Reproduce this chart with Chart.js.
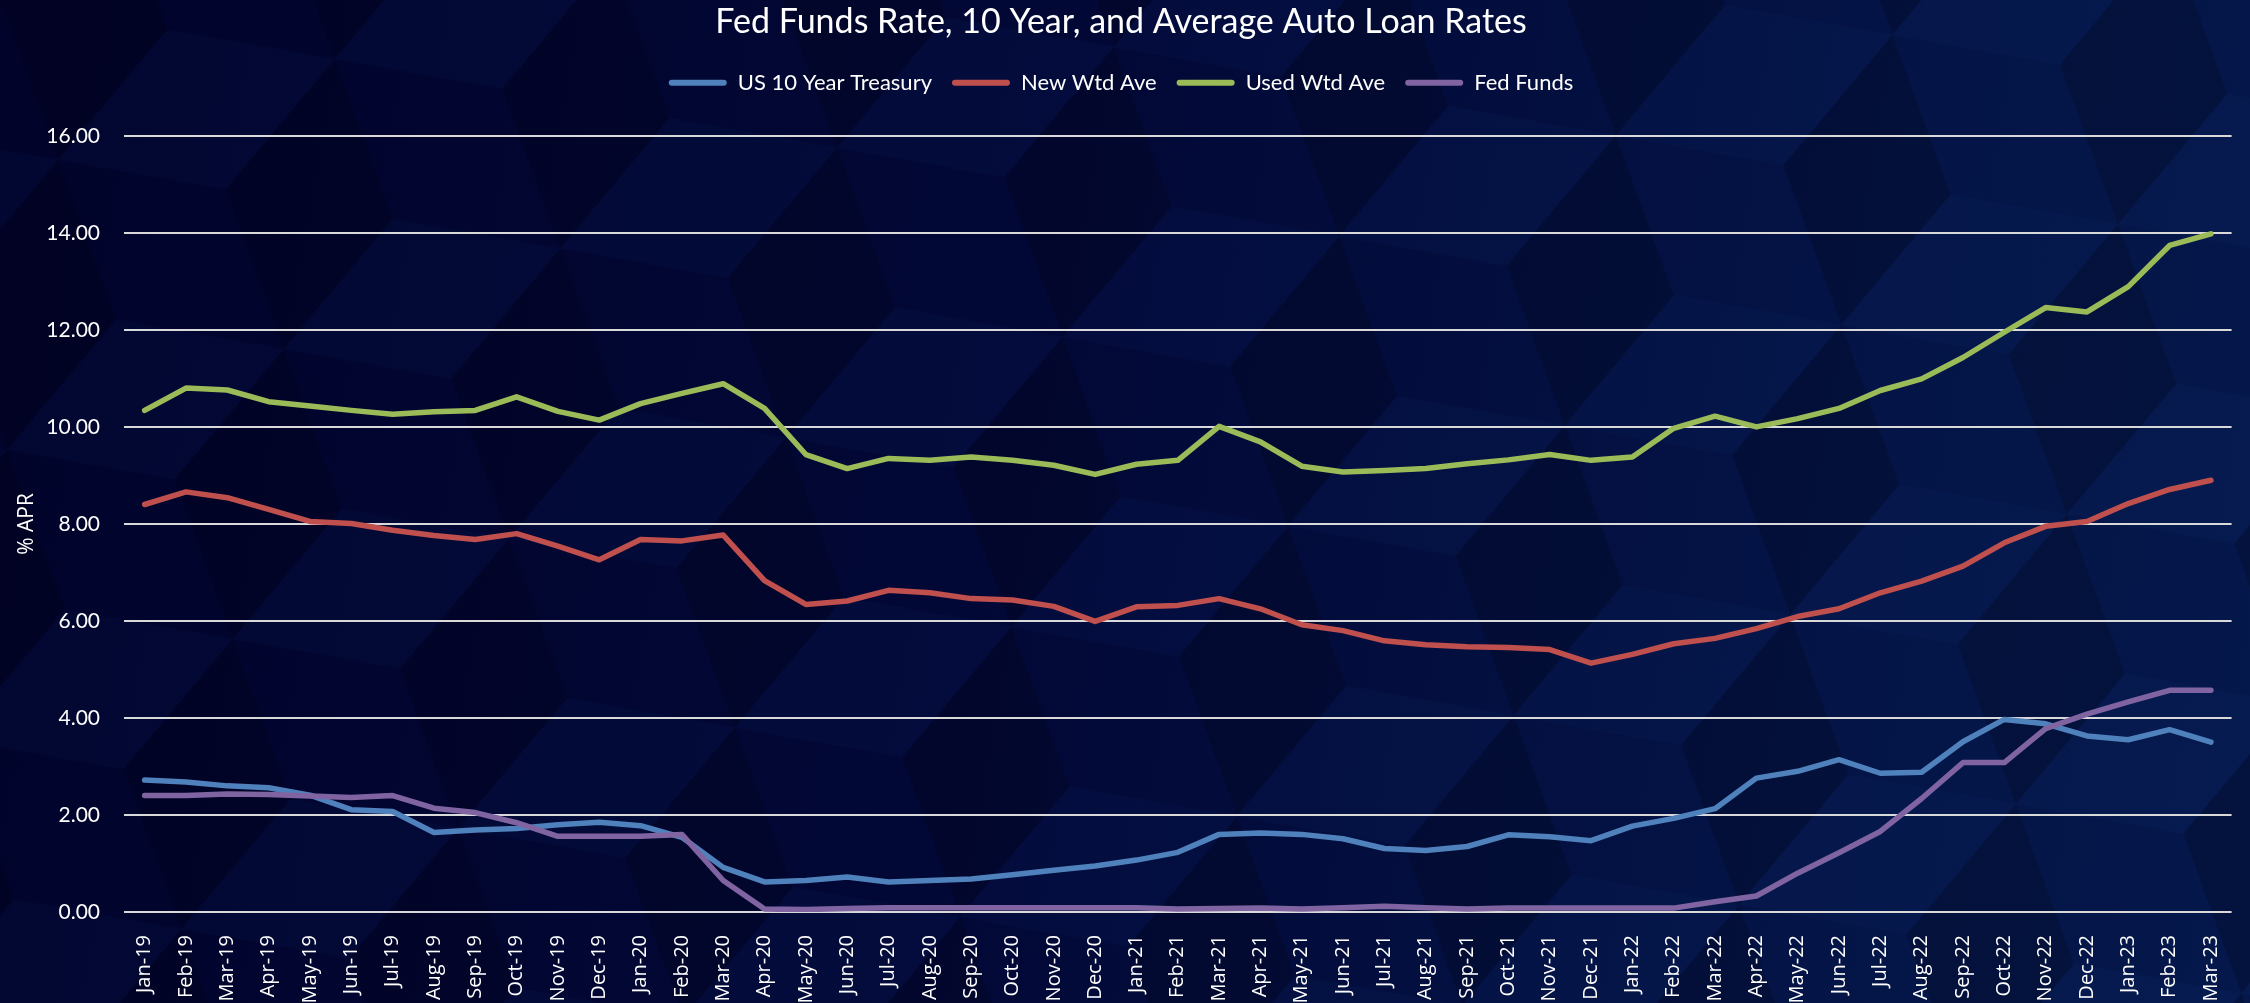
<!DOCTYPE html>
<html>
<head>
<meta charset="utf-8">
<title>Fed Funds Rate, 10 Year, and Average Auto Loan Rates</title>
<script src="https://cdn.jsdelivr.net/npm/chart.js@4.4.0/dist/chart.umd.min.js"></script>
<style>
  html, body { margin: 0; padding: 0; }
  body {
    width: 2250px;
    height: 1003px;
    overflow: hidden;
    background: linear-gradient(100deg, #01032a 0%, #020836 45%, #041446 80%, #05184b 100%);
  }
  canvas { display: block; }
</style>
</head>
<body>
<canvas id="rates-chart" width="2250" height="1003"></canvas>
<script>
// month labels on the category axis
const months = [
  'Jan-19', 'Feb-19', 'Mar-19', 'Apr-19', 'May-19', 'Jun-19', 'Jul-19', 'Aug-19', 'Sep-19', 'Oct-19', 'Nov-19', 'Dec-19',
  'Jan-20', 'Feb-20', 'Mar-20', 'Apr-20', 'May-20', 'Jun-20', 'Jul-20', 'Aug-20', 'Sep-20', 'Oct-20', 'Nov-20', 'Dec-20',
  'Jan-21', 'Feb-21', 'Mar-21', 'Apr-21', 'May-21', 'Jun-21', 'Jul-21', 'Aug-21', 'Sep-21', 'Oct-21', 'Nov-21', 'Dec-21',
  'Jan-22', 'Feb-22', 'Mar-22', 'Apr-22', 'May-22', 'Jun-22', 'Jul-22', 'Aug-22', 'Sep-22', 'Oct-22', 'Nov-22', 'Dec-22',
  'Jan-23', 'Feb-23', 'Mar-23'
];

// % APR
const treasury = [
  2.72, 2.68, 2.60, 2.56, 2.41, 2.11, 2.07, 1.64, 1.69, 1.72, 1.80, 1.85,
  1.78, 1.54, 0.92, 0.62, 0.65, 0.72, 0.62, 0.65, 0.68, 0.77, 0.86, 0.95,
  1.07, 1.23, 1.60, 1.63, 1.60, 1.51, 1.31, 1.27, 1.35, 1.59, 1.55, 1.47,
  1.77, 1.93, 2.13, 2.76, 2.90, 3.14, 2.86, 2.88, 3.51, 3.97, 3.88, 3.63,
  3.55, 3.76, 3.50
];
const newWtdAve = [
  8.40, 8.66, 8.54, 8.30, 8.05, 8.01, 7.87, 7.76, 7.68, 7.80, 7.54, 7.26,
  7.68, 7.65, 7.77, 6.83, 6.34, 6.41, 6.63, 6.58, 6.46, 6.43, 6.30, 5.99,
  6.29, 6.32, 6.46, 6.25, 5.92, 5.80, 5.59, 5.51, 5.47, 5.45, 5.41, 5.13,
  5.31, 5.53, 5.64, 5.84, 6.09, 6.25, 6.58, 6.82, 7.13, 7.61, 7.95, 8.05,
  8.42, 8.71, 8.90
];
const usedWtdAve = [
  10.34, 10.80, 10.76, 10.52, 10.43, 10.34, 10.26, 10.31, 10.34, 10.62, 10.32, 10.14,
  10.48, 10.69, 10.89, 10.38, 9.43, 9.14, 9.35, 9.31, 9.38, 9.31, 9.21, 9.02,
  9.23, 9.31, 10.01, 9.69, 9.19, 9.07, 9.10, 9.14, 9.24, 9.32, 9.43, 9.31,
  9.38, 9.97, 10.22, 10.00, 10.17, 10.38, 10.75, 10.99, 11.43, 11.95, 12.46, 12.37,
  12.89, 13.74, 13.98
];
const fedFunds = [
  2.40, 2.40, 2.43, 2.42, 2.39, 2.36, 2.40, 2.14, 2.05, 1.84, 1.56, 1.56,
  1.56, 1.60, 0.65, 0.06, 0.05, 0.07, 0.09, 0.09, 0.09, 0.09, 0.09, 0.09,
  0.09, 0.06, 0.07, 0.08, 0.06, 0.09, 0.12, 0.09, 0.06, 0.08, 0.08, 0.08,
  0.08, 0.08, 0.21, 0.33, 0.80, 1.22, 1.66, 2.34, 3.08, 3.08, 3.78, 4.08,
  4.33, 4.57, 4.57
];

const WHITE = '#ffffff';
const GRID = '#d9d9d9';

// faint slanted cube texture behind the chart, like the slide background
function cubeBackground() {
  const r = 170;
  const dx = r * Math.sqrt(3) / 2;
  const w = 2 * dx;
  const h = 3 * r;
  const centers = [[0, 0], [w, 0], [dx, 1.5 * r], [0, h], [w, h]];
  const poly = (pts, fill) => `<polygon points='${pts.map((p) => p[0].toFixed(1) + ',' + p[1].toFixed(1)).join(' ')}' fill='${fill}'/>`;
  let faces = '';
  centers.forEach(([cx, cy]) => {
    const top = [cx, cy - r], ur = [cx + dx, cy - r / 2], lr = [cx + dx, cy + r / 2];
    const bottom = [cx, cy + r], ul = [cx - dx, cy - r / 2], c = [cx, cy];
    faces += poly([top, ur, c, ul], 'rgba(25,60,150,0.06)');
    faces += poly([c, ur, lr, bottom], 'rgba(0,0,10,0.2)');
  });
  const svg = `<svg xmlns='http://www.w3.org/2000/svg' width='2250' height='1003'>` +
    `<defs><pattern id='p' width='${w.toFixed(1)}' height='${h}' patternUnits='userSpaceOnUse' patternTransform='rotate(-20)'>${faces}</pattern></defs>` +
    `<rect width='100%' height='100%' fill='url(#p)'/></svg>`;
  document.body.style.backgroundImage =
    `url("data:image/svg+xml,${encodeURIComponent(svg)}"), ` +
    'linear-gradient(100deg, #01032a 0%, #020836 45%, #041446 80%, #05184b 100%)';
}
cubeBackground();

function series(label, data, color, order) {
  return {
    label: label,
    data: data,
    borderColor: color,
    backgroundColor: color,
    order: order
  };
}

new Chart(document.getElementById('rates-chart'), {
  type: 'line',
  data: {
    labels: months,
    datasets: [
      series('US 10 Year Treasury', treasury, '#4f81bd', 4),
      series('New Wtd Ave', newWtdAve, '#c0504d', 3),
      series('Used Wtd Ave', usedWtdAve, '#9bbb59', 2),
      series('Fed Funds', fedFunds, '#8064a2', 1)
    ]
  },
  options: {
    responsive: false,
    animation: false,
    layout: { padding: { right: 8 } },
    elements: {
      line: { borderWidth: 5.5, tension: 0, borderCapStyle: 'round', borderJoinStyle: 'round' },
      point: { radius: 0, hoverRadius: 0 }
    },
    plugins: {
      title: {
        display: true,
        text: 'Fed Funds Rate, 10 Year, and Average Auto Loan Rates',
        color: WHITE,
        font: { family: 'Lato', size: 34, weight: 'normal' },
        padding: { top: 2, bottom: 9 }
      },
      // empty box below the legend, keeps the plot top where the reference has it
      subtitle: {
        display: true,
        text: '',
        weight: 500,
        font: { size: 10, lineHeight: 1 },
        padding: { top: 0, bottom: 22 }
      },
      legend: {
        position: 'top',
        labels: {
          color: WHITE,
          font: { family: 'Lato', size: 22 },
          boxWidth: 58,
          boxHeight: 6,
          padding: 20,
          useBorderRadius: true,
          borderRadius: 3,
          sort: (a, b) => a.datasetIndex - b.datasetIndex,
          generateLabels(chart) {
            const items = Chart.defaults.plugins.legend.labels.generateLabels(chart);
            items.forEach((item) => { item.lineWidth = 0; });
            return items;
          }
        }
      },
      tooltip: { enabled: false }
    },
    scales: {
      x: {
        offset: true,
        grid: { display: false },
        border: { display: false },
        ticks: {
          color: WHITE,
          font: { family: 'Open Sans', size: 20 },
          minRotation: 90,
          maxRotation: 90,
          autoSkip: false,
          padding: 15
        },
        afterFit(scale) { scale.height = 91; }
      },
      y: {
        min: 0,
        max: 16,
        border: { display: false },
        grid: { color: GRID, lineWidth: 2, drawTicks: false },
        ticks: {
          stepSize: 2,
          color: WHITE,
          font: { family: 'Lato', size: 21 },
          padding: 24,
          callback: (v) => v.toFixed(2)
        },
        title: {
          display: true,
          text: '% APR',
          color: WHITE,
          font: { family: 'Open Sans', size: 21 },
          padding: { top: 14, bottom: 0 }
        },
        afterFit(scale) { scale.width = 124; }
      }
    }
  }
});
</script>
</body>
</html>
